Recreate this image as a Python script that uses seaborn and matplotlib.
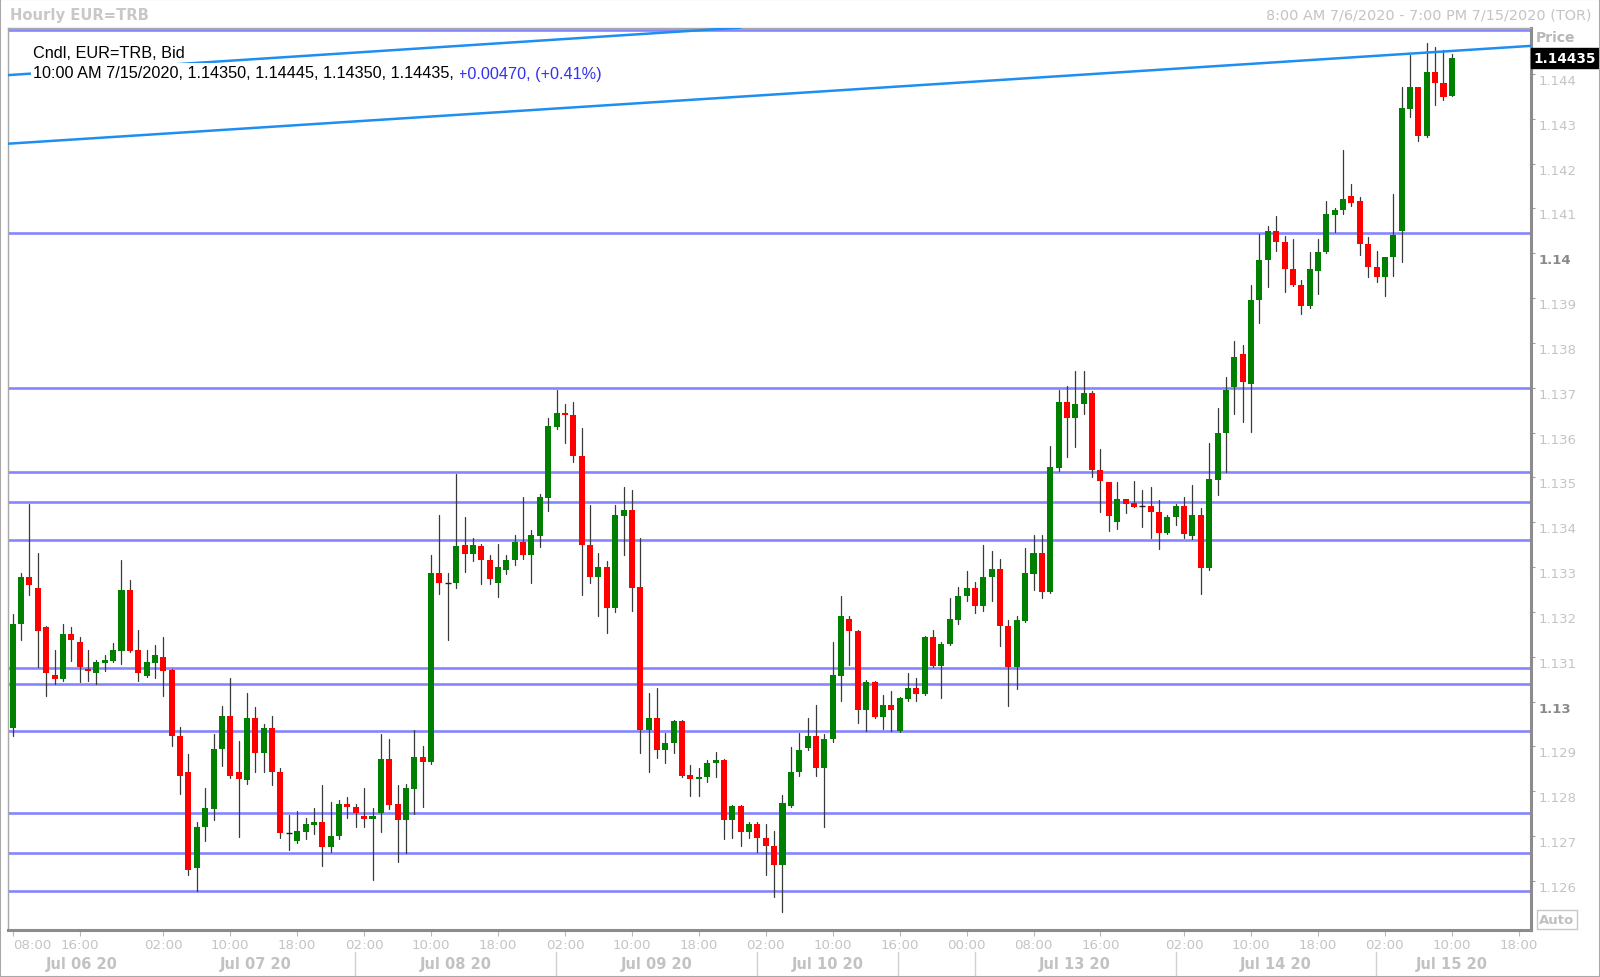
import matplotlib
matplotlib.use("Agg")
import matplotlib.pyplot as plt
import seaborn as sns
import pandas as pd
from matplotlib.transforms import blended_transform_factory
from matplotlib.lines import Line2D
from matplotlib.patches import Rectangle

# ---------------- data (hourly EUR=TRB bid candles, index 0 = Jul 06 08:00) ----------------
opens = [
    1.12941, 1.13172, 1.13279, 1.13254, 1.13166, 1.13059, 1.13051, 1.13150, 1.13133, 1.13073,
    1.13063, 1.13087, 1.13091, 1.13113, 1.13250, 1.13114, 1.13058, 1.13087, 1.13099, 1.13071,
    1.12923, 1.12842, 1.12629, 1.12721, 1.12761, 1.12894, 1.12967, 1.12842, 1.12826, 1.12963,
    1.12886, 1.12942, 1.12842, 1.12706, 1.12690, 1.12710, 1.12725, 1.12732, 1.12675, 1.12700,
    1.12772, 1.12766, 1.12745, 1.12738, 1.12752, 1.12872, 1.12772, 1.12735, 1.12805, 1.12876,
    1.12866, 1.13286, 1.13264, 1.13264, 1.13349, 1.13329, 1.13346, 1.13316, 1.13264, 1.13293,
    1.13315, 1.13357, 1.13326, 1.13370, 1.13455, 1.13612, 1.13643, 1.13639, 1.13547, 1.13350,
    1.13278, 1.13301, 1.13209, 1.13415, 1.13427, 1.13255, 1.12936, 1.12963, 1.12892, 1.12908,
    1.12957, 1.12836, 1.12827, 1.12831, 1.12862, 1.12869, 1.12735, 1.12767, 1.12710, 1.12726,
    1.12695, 1.12677, 1.12636, 1.12768, 1.12842, 1.12897, 1.12923, 1.12852, 1.12916, 1.13058,
    1.13184, 1.13158, 1.12981, 1.13043, 1.12966, 1.12993, 1.12935, 1.13006, 1.13030, 1.13017,
    1.13144, 1.13079, 1.13129, 1.13183, 1.13235, 1.13254, 1.13213, 1.13279, 1.13296, 1.13169,
    1.13078, 1.13179, 1.13285, 1.13331, 1.13245, 1.13522, 1.13669, 1.13632, 1.13664, 1.13688,
    1.13517, 1.13489, 1.13400, 1.13452, 1.13443, 1.13437, 1.13437, 1.13422, 1.13375, 1.13411,
    1.13437, 1.13370, 1.13416, 1.13299, 1.13495, 1.13598, 1.13701, 1.13775, 1.13709, 1.13895,
    1.13985, 1.14050, 1.14026, 1.13966, 1.13929, 1.13883, 1.13961, 1.14002, 1.14086, 1.14097,
    1.14127, 1.14116, 1.14021, 1.13970, 1.13946, 1.13991, 1.14050, 1.14322, 1.14370, 1.14262,
    1.14404, 1.14380, 1.14350,
]
highs = [
    1.13195, 1.13286, 1.13441, 1.13331, 1.13169, 1.13115, 1.13174, 1.13166, 1.13144, 1.13114,
    1.13092, 1.13104, 1.13130, 1.13316, 1.13271, 1.13159, 1.13114, 1.13126, 1.13144, 1.13073,
    1.12943, 1.12883, 1.12732, 1.12807, 1.12928, 1.12990, 1.13053, 1.12913, 1.13019, 1.12989,
    1.12949, 1.12968, 1.12853, 1.12746, 1.12755, 1.12741, 1.12762, 1.12813, 1.12777, 1.12781,
    1.12787, 1.12772, 1.12807, 1.12762, 1.12928, 1.12917, 1.12813, 1.12816, 1.12937, 1.12902,
    1.13327, 1.13416, 1.13286, 1.13508, 1.13412, 1.13366, 1.13351, 1.13328, 1.13351, 1.13326,
    1.13372, 1.13456, 1.13383, 1.13462, 1.13633, 1.13695, 1.13664, 1.13668, 1.13610, 1.13439,
    1.13332, 1.13313, 1.13439, 1.13478, 1.13471, 1.13366, 1.13019, 1.13030, 1.12930, 1.12959,
    1.12959, 1.12858, 1.12853, 1.12869, 1.12888, 1.12872, 1.12769, 1.12769, 1.12732, 1.12732,
    1.12726, 1.12712, 1.12792, 1.12898, 1.12930, 1.12964, 1.12993, 1.12928, 1.13134, 1.13235,
    1.13190, 1.13160, 1.13048, 1.13045, 1.13015, 1.13023, 1.13010, 1.13063, 1.13053, 1.13146,
    1.13160, 1.13134, 1.13231, 1.13255, 1.13291, 1.13266, 1.13350, 1.13335, 1.13317, 1.13181,
    1.13192, 1.13342, 1.13372, 1.13372, 1.13569, 1.13695, 1.13705, 1.13738, 1.13738, 1.13693,
    1.13563, 1.13490, 1.13489, 1.13453, 1.13491, 1.13471, 1.13478, 1.13450, 1.13417, 1.13441,
    1.13456, 1.13483, 1.13431, 1.13577, 1.13654, 1.13723, 1.13805, 1.13795, 1.13930, 1.14043,
    1.14061, 1.14084, 1.14039, 1.14032, 1.13941, 1.14002, 1.14032, 1.14117, 1.14102, 1.14230,
    1.14155, 1.14125, 1.14036, 1.14006, 1.13991, 1.14132, 1.14370, 1.14442, 1.14370, 1.14469,
    1.14461, 1.14454, 1.14445,
]
lows = [
    1.12923, 1.13138, 1.13238, 1.13078, 1.13013, 1.13039, 1.13047, 1.13091, 1.13043, 1.13047,
    1.13040, 1.13068, 1.13089, 1.13084, 1.13111, 1.13047, 1.13056, 1.13052, 1.13013, 1.12900,
    1.12794, 1.12614, 1.12578, 1.12690, 1.12735, 1.12856, 1.12830, 1.12699, 1.12816, 1.12842,
    1.12842, 1.12813, 1.12695, 1.12670, 1.12684, 1.12694, 1.12705, 1.12634, 1.12665, 1.12694,
    1.12740, 1.12720, 1.12720, 1.12603, 1.12709, 1.12760, 1.12643, 1.12662, 1.12749, 1.12764,
    1.12861, 1.13239, 1.13138, 1.13253, 1.13288, 1.13314, 1.13263, 1.13263, 1.13234, 1.13284,
    1.13304, 1.13319, 1.13264, 1.13344, 1.13425, 1.13607, 1.13576, 1.13535, 1.13238, 1.13264,
    1.13190, 1.13153, 1.13199, 1.13326, 1.13203, 1.12886, 1.12842, 1.12875, 1.12862, 1.12886,
    1.12831, 1.12790, 1.12790, 1.12821, 1.12831, 1.12694, 1.12695, 1.12679, 1.12695, 1.12665,
    1.12614, 1.12564, 1.12530, 1.12764, 1.12835, 1.12892, 1.12835, 1.12720, 1.12910, 1.13002,
    1.13082, 1.12952, 1.12935, 1.12964, 1.12940, 1.12935, 1.12933, 1.13002, 1.13002, 1.13015,
    1.13077, 1.13007, 1.13127, 1.13173, 1.13224, 1.13198, 1.13203, 1.13224, 1.13123, 1.12991,
    1.13028, 1.13177, 1.13250, 1.13230, 1.13243, 1.13514, 1.13546, 1.13567, 1.13641, 1.13500,
    1.13422, 1.13380, 1.13385, 1.13421, 1.13434, 1.13389, 1.13365, 1.13340, 1.13373, 1.13395,
    1.13366, 1.13363, 1.13239, 1.13294, 1.13461, 1.13513, 1.13642, 1.13623, 1.13601, 1.13844,
    1.13924, 1.14006, 1.13913, 1.13927, 1.13865, 1.13879, 1.13909, 1.14001, 1.14047, 1.14087,
    1.14105, 1.13995, 1.13946, 1.13935, 1.13905, 1.13950, 1.13980, 1.14303, 1.14251, 1.14260,
    1.14331, 1.14342, 1.14350,
]
closes = [
    1.13174, 1.13279, 1.13260, 1.13158, 1.13063, 1.13051, 1.13150, 1.13138, 1.13078, 1.13068,
    1.13088, 1.13092, 1.13114, 1.13250, 1.13113, 1.13063, 1.13088, 1.13104, 1.13068, 1.12923,
    1.12835, 1.12625, 1.12721, 1.12762, 1.12894, 1.12967, 1.12835, 1.12827, 1.12964, 1.12886,
    1.12942, 1.12842, 1.12706, 1.12706, 1.12711, 1.12726, 1.12732, 1.12675, 1.12700, 1.12772,
    1.12765, 1.12752, 1.12738, 1.12745, 1.12872, 1.12770, 1.12735, 1.12807, 1.12876, 1.12866,
    1.13286, 1.13264, 1.13264, 1.13346, 1.13329, 1.13349, 1.13315, 1.13274, 1.13301, 1.13316,
    1.13357, 1.13326, 1.13372, 1.13456, 1.13614, 1.13643, 1.13639, 1.13547, 1.13349, 1.13278,
    1.13301, 1.13209, 1.13416, 1.13427, 1.13253, 1.12936, 1.12963, 1.12892, 1.12908, 1.12957,
    1.12834, 1.12827, 1.12831, 1.12862, 1.12869, 1.12735, 1.12767, 1.12710, 1.12726, 1.12695,
    1.12677, 1.12636, 1.12773, 1.12842, 1.12893, 1.12923, 1.12852, 1.12916, 1.13059, 1.13190,
    1.13158, 1.12981, 1.13043, 1.12966, 1.12993, 1.12981, 1.13008, 1.13030, 1.13017, 1.13144,
    1.13079, 1.13129, 1.13184, 1.13235, 1.13254, 1.13213, 1.13279, 1.13296, 1.13169, 1.13078,
    1.13181, 1.13287, 1.13331, 1.13245, 1.13523, 1.13669, 1.13632, 1.13664, 1.13688, 1.13517,
    1.13491, 1.13415, 1.13452, 1.13441, 1.13435, 1.13437, 1.13422, 1.13375, 1.13411, 1.13437,
    1.13374, 1.13416, 1.13299, 1.13496, 1.13598, 1.13695, 1.13768, 1.13712, 1.13896, 1.13985,
    1.14050, 1.14024, 1.13965, 1.13929, 1.13883, 1.13966, 1.14002, 1.14088, 1.14097, 1.14122,
    1.14112, 1.14021, 1.13969, 1.13946, 1.13991, 1.14041, 1.14323, 1.14370, 1.14262, 1.14404,
    1.14380, 1.14348, 1.14435,
]

# horizontal support / resistance levels
levels = [1.14499, 1.14046, 1.13700, 1.13513, 1.13445, 1.13361,
          1.13076, 1.13040, 1.12935, 1.12751, 1.12662, 1.12578]
# trend lines: two anchor points each (candle index, price)
trend_a_x = [0, 181]
trend_a_y = [1.14245, 1.14462]
trend_b_x = [0, 100]
trend_b_y = [1.14398, 1.14519]

hour_ticks = [0, 8, 18, 26, 34, 42, 50, 58, 66, 74, 82, 90, 98, 106, 114, 122,
              130, 140, 148, 156, 164, 172, 180]
hour_labels = ['08:00', '16:00', '02:00', '10:00', '18:00', '02:00', '10:00', '18:00',
               '02:00', '10:00', '18:00', '02:00', '10:00', '16:00', '00:00', '08:00',
               '16:00', '02:00', '10:00', '18:00', '02:00', '10:00', '18:00']
day_centers = [8.2, 29.0, 53.0, 77.0, 97.4, 126.9, 150.9, 172.0]
day_labels = ['Jul 06 20', 'Jul 07 20', 'Jul 08 20', 'Jul 09 20', 'Jul 10 20',
              'Jul 13 20', 'Jul 14 20', 'Jul 15 20']
day_breaks = [40.9, 64.9, 89.0, 105.8, 115.0, 139.0, 162.9]
price_ticks = [1.126, 1.127, 1.128, 1.129, 1.130, 1.131, 1.132, 1.133, 1.134, 1.135,
               1.136, 1.137, 1.138, 1.139, 1.140, 1.141, 1.142, 1.143, 1.144]
price_labels = ['1.126', '1.127', '1.128', '1.129', '1.13', '1.131', '1.132', '1.133',
                '1.134', '1.135', '1.136', '1.137', '1.138', '1.139', '1.14', '1.141',
                '1.142', '1.143', '1.144']

# ---------------- style ----------------
sns.set_theme(style="white")
plt.rcParams['font.family'] = ['DejaVu Sans']

W, H = 1600, 978
fig = plt.figure(figsize=(W / 100, H / 100), dpi=100)
fig.patch.set_facecolor('white')
ax = fig.add_axes([8.2 / W, 1 - 930.6 / H, (1530.6 - 8.2) / W, (930.6 - 28.6) / H])
ax.set_facecolor('white')

df = pd.DataFrame({'x': range(len(opens)), 'open': opens, 'high': highs,
                   'low': lows, 'close': closes})

# wicks drawn with seaborn (one unit per candle)
wicks = pd.concat([
    df[['x', 'low']].rename(columns={'low': 'price'}),
    df[['x', 'high']].rename(columns={'high': 'price'}),
], ignore_index=True)
wicks['candle'] = wicks['x']
sns.lineplot(data=wicks, x='x', y='price', units='candle', estimator=None, sort=False,
             color='#3a3a3a', lw=0.9, ax=ax, zorder=3, legend=False)

up = df[df.close > df.open]
dn = df[df.close < df.open]
eq = df[df.close == df.open]
ax.bar(up.x, up.close - up.open, bottom=up.open, width=0.72, color='#008000',
       linewidth=0, zorder=4)
ax.bar(dn.x, dn.open - dn.close, bottom=dn.close, width=0.72, color='#FF0000',
       linewidth=0, zorder=4)
ax.hlines(eq.open, eq.x - 0.36, eq.x + 0.36, color='#202020', lw=1.0, zorder=4)

for lv in levels:
    ax.axhline(lv, color='#8585FF', lw=1.9, zorder=2)
ax.axline((trend_a_x[0], trend_a_y[0]), (trend_a_x[1], trend_a_y[1]),
          color='#1E8FF0', lw=1.8, zorder=5)
ax.axline((trend_b_x[0], trend_b_y[0]), (trend_b_x[1], trend_b_y[1]),
          color='#1E8FF0', lw=1.8, zorder=5)

ax.set_xlim(-0.54, 181.41)
ax.set_ylim(1.124915, 1.145033)
ax.set_xlabel('')
ax.set_ylabel('')

for side, col, lw in [('left', '#A8A8A8', 1.0), ('top', '#A8A8A8', 1.0),
                      ('right', '#8C8C8C', 2.2), ('bottom', '#8C8C8C', 2.2)]:
    ax.spines[side].set_visible(True)
    ax.spines[side].set_color(col)
    ax.spines[side].set_linewidth(lw)

# y axis on the right
ax.yaxis.tick_right()
ax.set_yticks(price_ticks, price_labels)
ax.tick_params(axis='y', right=True, left=False, length=3, width=0.8, color='#A0A0A0',
               pad=3, labelsize=9.5, labelcolor='#C4C4C4')
for lbl in ax.get_yticklabels():
    lbl.set_verticalalignment('top')
    if lbl.get_text() in ('1.14', '1.13'):
        lbl.set_fontweight('bold')
        lbl.set_color('#8A8A8A')

# x axis
ax.set_xticks(hour_ticks, hour_labels)
ax.tick_params(axis='x', bottom=True, length=4, width=0.8, color='#B8B8B8', pad=2,
               labelsize=9.6, labelcolor='#C4C4C4')
ax.get_xticklabels()[0].set_horizontalalignment('left')

tr = blended_transform_factory(ax.transData, fig.transFigure)
for x, lab in zip(day_centers, day_labels):
    ax.text(x, 1 - 965 / H, lab, transform=tr, ha='center', va='center', fontsize=10.5,
            fontweight='bold', color='#C2C2C2', clip_on=False)
for x in day_breaks:
    fig.add_artist(Line2D([x, x], [1 - 953 / H, 1 - 976 / H], transform=tr,
                          color='#D0D0D0', lw=1))

# header
fig.text(10 / W, 1 - 15.3 / H, 'Hourly EUR=TRB', fontsize=10.6, fontweight='bold',
         color='#C8C8C8', va='center', ha='left')
fig.text(1592 / W, 1 - 15.3 / H, '8:00 AM 7/6/2020 - 7:00 PM 7/15/2020 (TOR)',
         fontsize=10.4, color='#C4C4C4', va='center', ha='right')
fig.text(1536 / W, 1 - 37.8 / H, 'Price', fontsize=10, fontweight='bold',
         color='#B8B8B8', va='center', ha='left')

# last price tag
ax.text(1.0020, closes[-1], f'{closes[-1]:.5f}',
        transform=blended_transform_factory(ax.transAxes, ax.transData),
        ha='left', va='center', color='white', fontweight='bold', fontsize=9.8,
        bbox=dict(boxstyle='square,pad=0.22', fc='black', ec='black'),
        clip_on=False, zorder=10)

fig.text(1557 / W, 1 - 920.5 / H, 'Auto', ha='center', va='center', fontsize=9.5,
         fontweight='bold', color='#C0C0C0',
         bbox=dict(boxstyle='square,pad=0.2', fc='white', ec='#C8C8C8', lw=1))

# legend block
t1 = fig.text(32.7 / W, 1 - 53.5 / H, 'Cndl, EUR=TRB, Bid', fontsize=11.7,
              family=['Liberation Sans', 'DejaVu Sans'], color='black', va='center',
              ha='left', bbox=dict(fc='white', ec='none', pad=1.5), zorder=20)
line2 = (f'10:00 AM 7/15/2020, {opens[-1]:.5f}, {highs[-1]:.5f}, '
         f'{lows[-1]:.5f}, {closes[-1]:.5f}, ')
t2 = fig.text(32.7 / W, 1 - 74 / H, line2, fontsize=11.7,
              family=['Liberation Sans', 'DejaVu Sans'], color='black', va='center',
              ha='left', bbox=dict(fc='white', ec='none', pad=1.5), zorder=20)
ax.annotate('+0.00470, (+0.41%)', xy=(1, 0.5), xycoords=t2, ha='left', va='center',
            fontsize=11.7, family=['Liberation Sans', 'DejaVu Sans'], color='#3333EE',
            bbox=dict(fc='white', ec='none', pad=1.5), zorder=20, annotation_clip=False)

fig.add_artist(Rectangle((0, 0), 1, 1, transform=fig.transFigure, fill=False,
                         ec='#A8A8A8', lw=1.5))

fig.savefig('out.png', dpi=100, facecolor='white')
